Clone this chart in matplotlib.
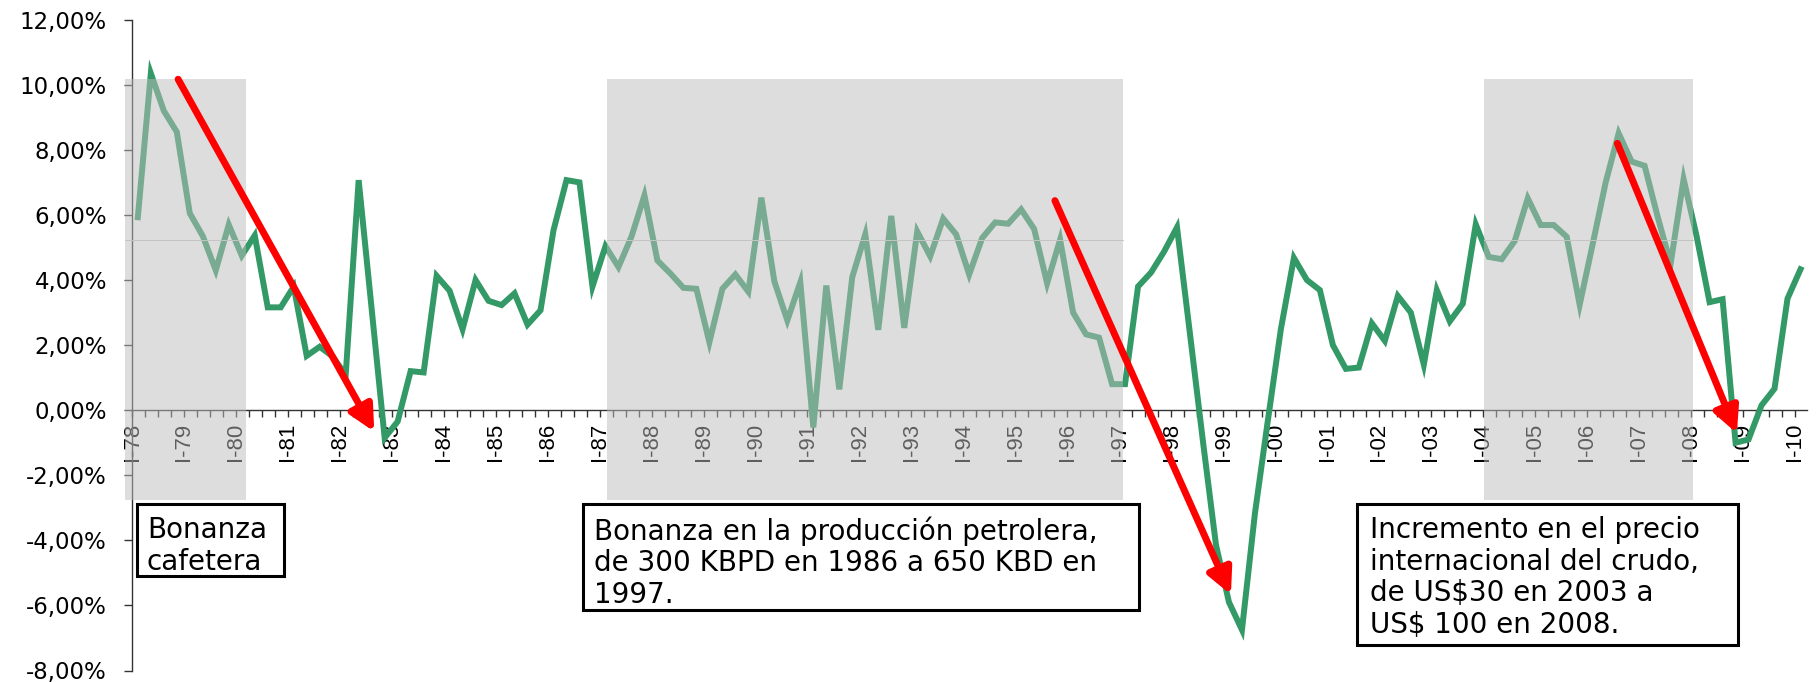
import numpy as np
import matplotlib
matplotlib.use("Agg")
import matplotlib.pyplot as plt
from matplotlib.patches import Rectangle

# ---------------- data ----------------
quarters = np.arange(129)  # I-78 ... I-10 (quarterly)
growth = [
    5.93, 10.35, 9.20, 8.55, 6.05, 5.35, 4.30, 5.70, 4.75, 5.37,
    3.16, 3.16, 3.80, 1.67, 1.95, 1.65, 1.08, 7.07, 3.10, -0.85,
    -0.35, 1.20, 1.16, 4.13, 3.67, 2.49, 4.00, 3.36, 3.23, 3.59,
    2.63, 3.07, 5.53, 7.07, 7.00, 3.80, 5.04, 4.40, 5.33, 6.60,
    4.60, 4.20, 3.76, 3.73, 2.09, 3.73, 4.17, 3.64, 6.53, 3.96,
    2.76, 3.93, -0.53, 3.83, 0.64, 4.09, 5.40, 2.47, 5.97, 2.53,
    5.49, 4.73, 5.89, 5.40, 4.17, 5.29, 5.77, 5.73, 6.17, 5.57,
    3.90, 5.24, 3.00, 2.33, 2.23, 0.80, 0.80, 3.80, 4.23, 4.87,
    5.62, 2.34, -0.97, -4.14, -5.90, -6.75, -3.17, -0.30, 2.50, 4.68,
    4.00, 3.69, 2.00, 1.27, 1.31, 2.67, 2.13, 3.51, 3.00, 1.40,
    3.69, 2.73, 3.27, 5.71, 4.71, 4.64, 5.20, 6.51, 5.69, 5.69,
    5.33, 3.24, 5.10, 7.00, 8.51, 7.64, 7.51, 5.95, 4.50, 7.10,
    5.35, 3.32, 3.41, -1.00, -0.90, 0.15, 0.66, 3.43, 4.33,
]
year_labels = ["I-78", "I-79", "I-80", "I-81", "I-82", "I-83", "I-84", "I-85",
               "I-86", "I-87", "I-88", "I-89", "I-90", "I-91", "I-92", "I-93",
               "I-94", "I-95", "I-96", "I-97", "I-98", "I-99", "I-00", "I-01",
               "I-02", "I-03", "I-04", "I-05", "I-06", "I-07", "I-08", "I-09",
               "I-10"]
y_ticks = [12, 10, 8, 6, 4, 2, 0, -2, -4, -6, -8]
y_tick_labels = ["12,00%", "10,00%", "8,00%", "6,00%", "4,00%", "2,00%",
                 "0,00%", "-2,00%", "-4,00%", "-6,00%", "-8,00%"]

# shaded periods (start, end) in quarter index
booms = [(-0.98, 8.35), (36.15, 75.87), (103.6, 119.7)]
boom_top, boom_bottom, boom_line = 10.17, -2.75, 5.24

# arrows: (x_start, y_start, x_end, y_end)
arrows = [(3.1, 10.17, 18.2, -0.66),
          (70.6, 6.44, 84.15, -5.67),
          (113.9, 8.2, 123.1, -0.71)]

box_texts = ["Bonanza\ncafetera",
             "Bonanza en la producción petrolera,\nde 300 KBPD en 1986 a 650 KBD en\n1997.",
             "Incremento en el precio\ninternacional del crudo,\nde US$30 en 2003 a\nUS$ 100 en 2008."]
# box rectangles in figure pixels: (x0, y0_top, x1, y1_bottom), text origin
box_rects = [(137, 504, 284, 576), (583, 504, 1139, 610), (1357, 504, 1738, 645)]
text_origin = [(147, 516), (594, 516), (1370, 516)]

# ---------------- figure ----------------
W, H = 1816, 682
fig = plt.figure(figsize=(W / 100, H / 100), dpi=100)
ax_rect = [132 / W, 11.5 / H, (1807 - 132) / W, (682 - 11.5 - 19.7) / H]
ax = fig.add_axes(ax_rect)

green = "#339966"
ax.plot(quarters, growth, color=green, lw=4.3, solid_joinstyle="miter", zorder=3)

ax.set_xlim(-0.38, 128.5)
ax.set_ylim(-8, 12)

for s in ["top", "right"]:
    ax.spines[s].set_visible(False)
ax.spines["bottom"].set_position(("data", 0))
ax.spines["left"].set_linewidth(1.0)
ax.spines["bottom"].set_linewidth(1.0)
ax.spines["left"].set_color("#333333")
ax.spines["bottom"].set_color("#333333")

ax.set_yticks(y_ticks)
ax.set_yticklabels(y_tick_labels, fontsize=16.5, family="DejaVu Sans")
ax.tick_params(axis="y", direction="out", length=6, width=1, pad=12, color="#333333")

ax.set_xticks(np.arange(0, 129, 4) - 0.45)
ax.set_xticklabels(year_labels, rotation=90, fontsize=16, family="Liberation Sans",
                   va="top", ha="center")
ax.set_xticks(quarters - 0.45, minor=True)
ax.tick_params(axis="x", which="both", direction="out", length=5, width=1,
               pad=4, color="#333333")

# overlay axis for shading and arrows
ax2 = fig.add_axes(ax_rect)
ax2.set_xlim(ax.get_xlim())
ax2.set_ylim(ax.get_ylim())
ax2.axis("off")
ax2.patch.set_visible(False)

for (x0, x1) in booms:
    ax2.add_patch(Rectangle((x0, boom_bottom), x1 - x0, boom_top - boom_bottom,
                            facecolor="#bdbdbd", alpha=0.5, lw=0, clip_on=False))
    ax2.plot([x0, x1], [boom_line, boom_line], color="#c4c4c4", lw=0.7, clip_on=False)

for (xs, ys, xe, ye) in arrows:
    ax2.annotate("", xy=(xe, ye), xytext=(xs, ys),
                 arrowprops=dict(arrowstyle="-|>", color="#ff0000", lw=5,
                                 mutation_scale=38, shrinkA=0, shrinkB=0),
                 annotation_clip=False)

# text boxes
for (x0, y0, x1, y1), (tx, ty), txt in zip(box_rects, text_origin, box_texts):
    fig.add_artist(Rectangle((x0 / W, 1 - y1 / H), (x1 - x0) / W, (y1 - y0) / H,
                             transform=fig.transFigure, facecolor="white",
                             edgecolor="black", lw=2.2, zorder=5))
    fig.text(tx / W, 1 - ty / H, txt, fontsize=20, family="DejaVu Sans",
             va="top", ha="left", linespacing=1.16, zorder=6)

fig.savefig("out.png", dpi=100)
